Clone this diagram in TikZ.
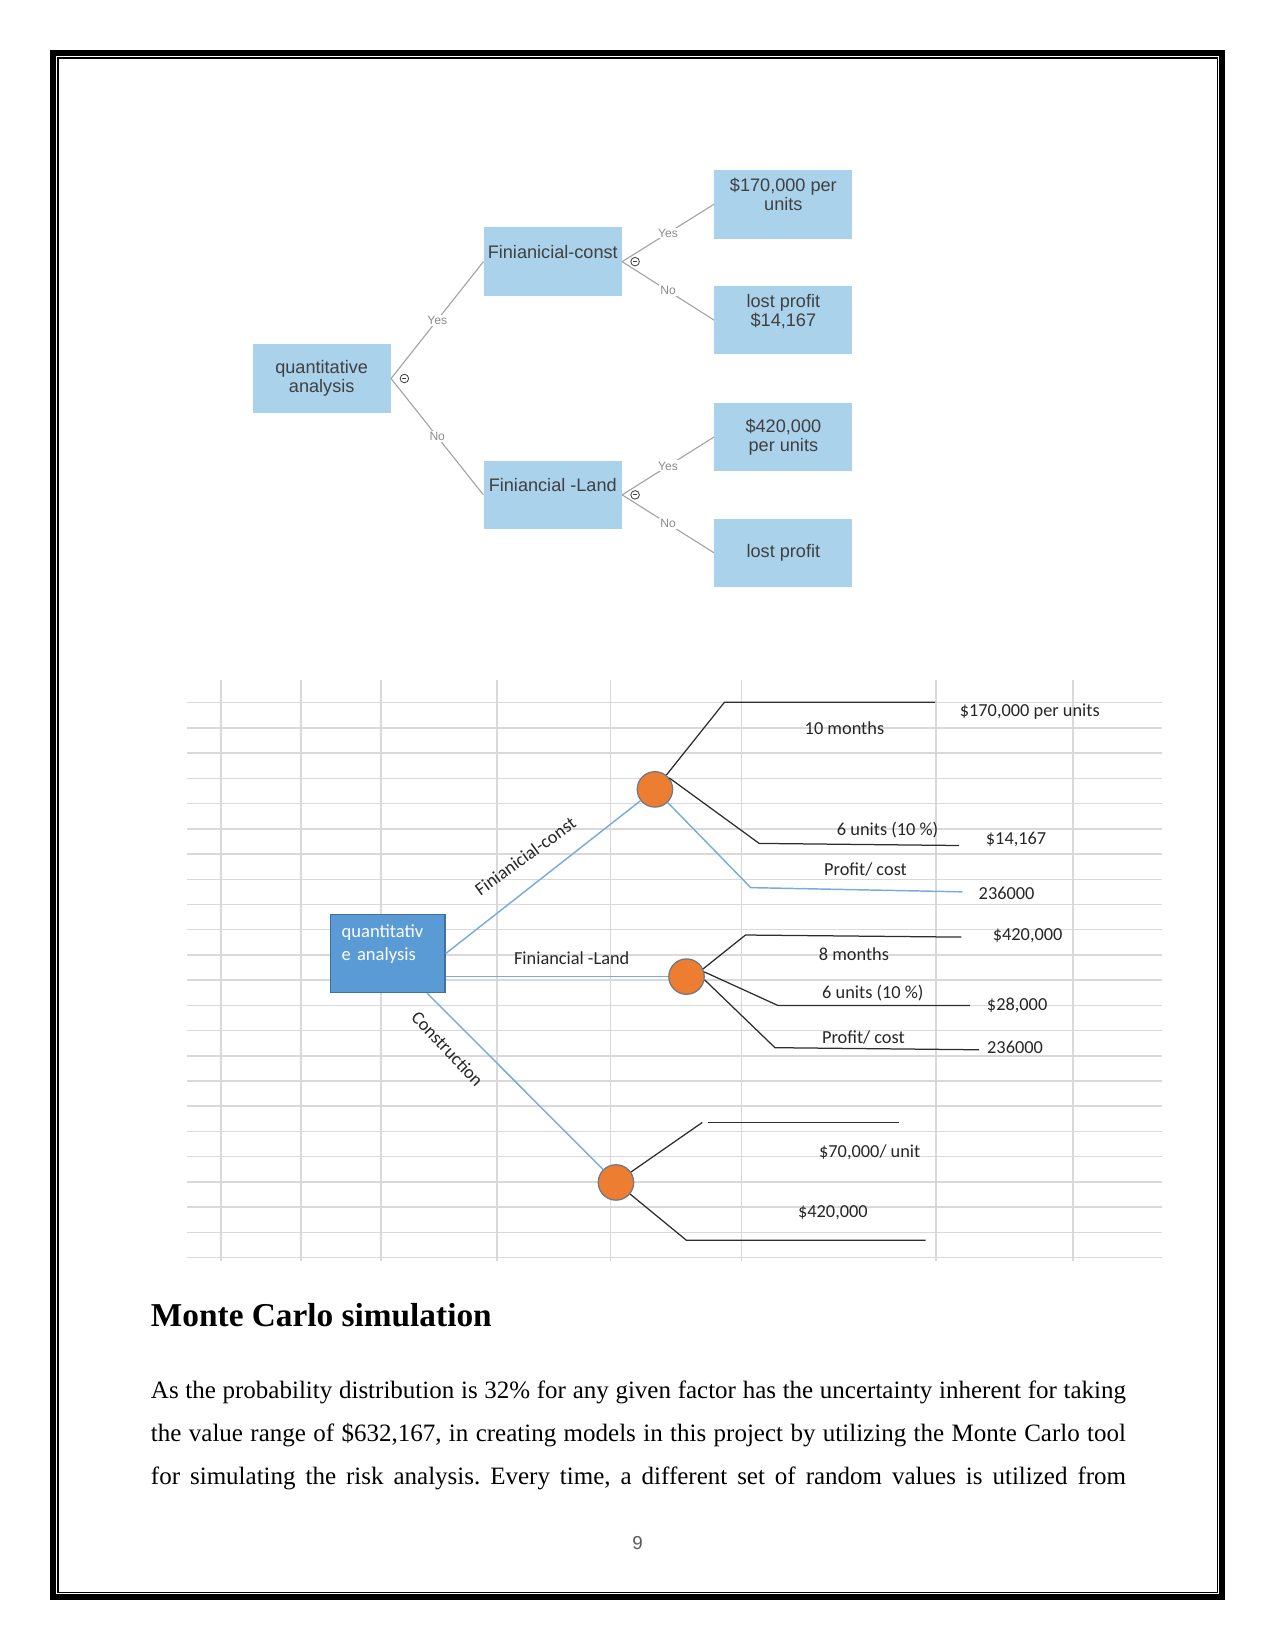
\documentclass[tikz,border=0pt]{standalone}
\usepackage{fontspec}
\setmainfont{Liberation Serif}
\newfontfamily\arialfont{Liberation Sans}
\newfontfamily\calibrifont{Carlito}
\definecolor{boxblue}{RGB}{170,210,235}
\definecolor{boxtext}{RGB}{64,64,64}
\definecolor{linkgray}{RGB}{165,165,165}
\definecolor{yngray}{RGB}{140,140,140}
\definecolor{gridgray}{RGB}{217,217,217}
\definecolor{qablue}{RGB}{91,155,213}
\definecolor{qaedge}{RGB}{65,113,156}
\definecolor{linkblue}{RGB}{120,172,222}
\definecolor{chanceorange}{RGB}{237,125,49}
\definecolor{chanceedge}{RGB}{110,120,135}
\definecolor{branchblack}{RGB}{45,45,45}
\definecolor{pagegray}{RGB}{90,90,90}

\begin{document}
\begin{tikzpicture}[x=0.5054pt,y=-0.5054pt,
	tbox/.style={fill=boxblue,minimum width=66.2pt,minimum height=32.9pt,inner sep=1pt,align=center,text=boxtext,font=\arialfont\fontsize{8.7}{9.2}\selectfont},
	link/.style={draw=linkgray,line width=0.55pt},
	yn/.style={fill=white,inner sep=0.6pt,text=yngray,font=\arialfont\fontsize{5.8}{6}\selectfont},
	collapse/.style={circle,draw=boxtext,fill=white,line width=0.4pt,minimum size=4.1pt,inner sep=0pt,
		path picture={\draw[line width=0.45pt] ([xshift=-1pt]path picture bounding box.center) -- ([xshift=1pt]path picture bounding box.center);}},
	sheetline/.style={draw=gridgray,line width=0.7pt},
	qabox/.style={fill=qablue,draw=qaedge,line width=0.5pt,text width=44.3pt,inner xsep=5.3pt,minimum height=37.45pt,align=left,text=white,font=\calibrifont\fontsize{8.9}{10.9}\selectfont},
	chance/.style={circle,fill=chanceorange,draw=chanceedge,line width=0.6pt,minimum size=17pt,inner sep=0pt},
	bline/.style={draw=linkblue,line width=0.7pt},
	kline/.style={draw=branchblack,line width=0.6pt},
	lbl/.style={inner sep=0pt,text=black!85,font=\calibrifont\fontsize{8.8}{10}\selectfont},
	body/.style={anchor=base west,inner sep=0pt,font=\fontsize{12}{14}\selectfont\frenchspacing}]
	\useasboundingbox (0,0) rectangle (1211,1568);
	% page frame, thick outside and thin inside
	\draw[line width=2.88pt] (50.35,50.35) rectangle (1160.6,1516.8);
	\draw[line width=0.5pt] (55.1,55.1) rectangle (1155.9,1512);

	% first tree
	\node[tbox] (qa) at (305.5,359.5) {quantitative\\analysis};
	\node[tbox] (fc) at (525,248.5) {Finianicial-const\\\mbox{}};
	\node[tbox] (fl) at (525,470) {Finiancial -Land\\\mbox{}};
	\node[tbox] (r1) at (744,194) {\$170,000 per\\units\\\mbox{}};
	\node[tbox] (r2) at (744,304) {lost profit\\\$14,167\\\mbox{}};
	\node[tbox] (r3) at (744,415) {\$420,000\\per units};
	\node[tbox] (r4) at (744,525) {lost profit};
	\draw[link] (qa.east) -- node[yn] {Yes} (fc.west);
	\draw[link] (qa.east) -- node[yn] {No} (fl.west);
	\draw[link] (fc.east) -- node[yn] {Yes} (r1.west);
	\draw[link] (fc.east) -- node[yn] {No} (r2.west);
	\draw[link] (fl.east) -- node[yn] {Yes} (r3.west);
	\draw[link] (fl.east) -- node[yn] {No} (r4.west);
	\node[collapse] (qac) at ([xshift=6.4pt]qa.east) {};
	\node[collapse] (fcc) at ([xshift=6.2pt]fc.east) {};
	\node[collapse] (flc) at ([xshift=6.2pt]fl.east) {};

	% sheet grid behind the second tree
	\foreach \r in {0,...,22}
		\draw[sheetline] (178,{667.4+23.95*\r}) -- (1104,{667.4+23.95*\r});
	\foreach \x in {210,286,362,472,580,704,889,1019}
		\draw[sheetline] (\x,646) -- (\x,1198);

	% second tree
	\node[qabox] (qa2) at (368.3,905.75) {quantitativ\\e analysis\\\mbox{}};
	\node[chance] (c1) at (622,749.7) {};
	\node[chance] (c2) at (652,927.5) {};
	\node[chance] (c3) at (585,1123) {};
	\draw[bline] (qa2.east) -- (c1);
	\draw[bline] (c2 -| qa2.east) -- (c2);
	\draw[bline] (qa2) -- (c3);
	\node[lbl,rotate=36] (lfc) at (499,813) {Finianicial-const};
	\node[lbl] (lfl) at (543,910) {Finiancial -Land};
	\node[lbl,rotate=-47] (lco) at (425,996) {Construction};

	\coordinate (k11) at (688,667);  \coordinate (e11) at (888,667);
	\coordinate (k12) at (721,801);  \coordinate (e12) at (911,803);
	\coordinate (k13) at (713,843);  \coordinate (e13) at (914,847);
	\coordinate (k21) at (708,888);  \coordinate (e21) at (913,890);
	\coordinate (k22) at (739,955);  \coordinate (e22) at (921,955);
	\coordinate (k23) at (736,995);  \coordinate (e23) at (930,997);
	\coordinate (k31) at (667,1066); \coordinate (s31) at (672,1066); \coordinate (e31) at (854,1066);
	\coordinate (k32) at (652,1178); \coordinate (e32) at (879,1178);
	\draw[kline] (c1) -- (k11) -- (e11);
	\draw[kline] (c1.39) -- (k12) -- (e12);
	\draw[bline] (c1) -- (k13) -- (e13);
	\draw[kline] (c2.25) -- (k21) -- (e21);
	\draw[kline] (c2.15) -- (k22) -- (e22);
	\draw[kline] (c2.-10) -- (k23) -- (e23);
	\draw[kline] (c3) -- (k31);
	\draw[kline] (s31) -- (e31);
	\draw[kline] (c3) -- (k32) -- (e32);

	\node[lbl] (m10) at (802,692) {10 months};
	\node[lbl] (v170) at (978,676) {\$170,000 per units};
	\node[lbl] (u6a) at (843,788) {6 units (10 \%)};
	\node[lbl] (v14) at (965,797) {\$14,167};
	\node[lbl] (pca) at (822,826) {Profit/ cost};
	\node[lbl] (v236a) at (956,848) {236000};
	\node[lbl] (m8) at (811,906) {8 months};
	\node[lbl] (v420a) at (976,889) {\$420,000};
	\node[lbl] (u6b) at (829,943) {6 units (10 \%)};
	\node[lbl] (v28) at (966,955) {\$28,000};
	\node[lbl] (pcb) at (820,985) {Profit/ cost};
	\node[lbl] (v236b) at (964,995) {236000};
	\node[lbl] (v70) at (826,1094) {\$70,000/ unit};
	\node[lbl] (v420b) at (791,1152) {\$420,000};

	% text below
	\node[anchor=base west,inner sep=0pt,font=\fontsize{16}{19}\selectfont\bfseries] (head) at (143,1260) {Monte Carlo simulation};
	\node[body] (ln1) at (143,1328.5) {\hbox to 468pt{As the probability distribution is 32\% for any given factor has the uncertainty inherent for taking}};
	\node[body] (ln2) at (143,1369) {\hbox to 468pt{the value range of \$632,167, in creating models in this project by utilizing the Monte Carlo tool}};
	\node[body] (ln3) at (143,1409.5) {\hbox to 468pt{for simulating the risk analysis. Every time, a different set of random values is utilized from}};
	\node[text=pagegray,font=\arialfont\fontsize{9}{10}\selectfont] (pg) at (605.5,1465) {9};
\end{tikzpicture}
\end{document}
